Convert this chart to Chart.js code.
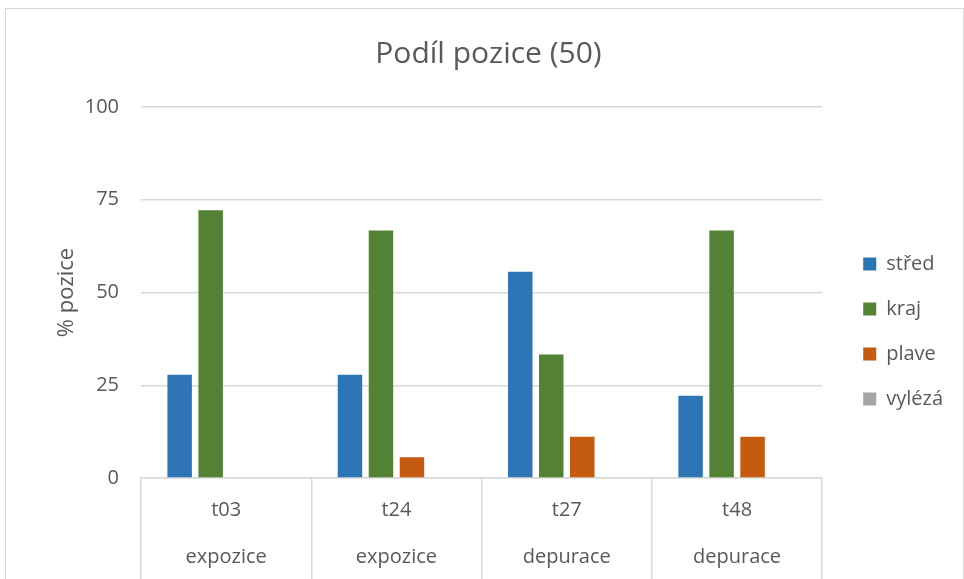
<!DOCTYPE html>
<html>
<head>
<meta charset="utf-8">
<script src="https://cdn.jsdelivr.net/npm/chart.js@4.4.1/dist/chart.umd.min.js"></script>
<style>
html, body { margin: 0; padding: 0; background: #fff; overflow: hidden; }
#wrap { position: relative; width: 964px; height: 579px; }
#frame { position: absolute; left: 5px; top: 8px; width: 957px; height: 620px; border: 1px solid #d9d9d9; pointer-events: none; }
</style>
</head>
<body>
<div id="wrap">
    <canvas id="myChart" width="964" height="579"></canvas>
    <div id="frame"></div>
</div>
<script>
var casy   = ['t03', 't24', 't27', 't48'];
var faze   = ['expozice', 'expozice', 'depurace', 'depurace'];
var stred  = [27.8, 27.8, 55.6, 22.2];
var kraj   = [72.2, 66.7, 33.3, 66.7];
var plave  = [0, 5.6, 11.1, 11.1];
var vyleza = [0, 0, 0, 0];
var yTicks = [0, 25, 50, 75, 100];

var font = 'Open Sans';
var textColor = '#595959';
var gridColor = '#d9d9d9';

var labels = casy.map(function(c, i) { return [c, faze[i]]; });

var ctx = document.getElementById('myChart').getContext('2d');

var myChart = new Chart(ctx, {
    type: 'bar',
    data: {
        labels: labels,
        datasets: [
            { label: 'střed',  data: stred,  backgroundColor: '#2e75b6' },
            { label: 'kraj',   data: kraj,   backgroundColor: '#548235' },
            { label: 'plave',  data: plave,  backgroundColor: '#c55a11' },
            { label: 'vylézá', data: vyleza, backgroundColor: '#a5a5a5' }
        ]
    },
    options: {
        responsive: false,
        animation: false,
        devicePixelRatio: 1,
        categoryPercentage: 0.728,
        barPercentage: 0.79,
        layout: {
            padding: { left: 24, right: 11, top: 0, bottom: 0 }
        },
        plugins: {
            title: {
                display: true,
                text: 'Podíl pozice (50)',
                color: textColor,
                font: { family: font, size: 30, weight: 'normal' },
                padding: { top: 36, bottom: 35 }
            },
            legend: {
                position: 'right',
                title: {
                    display: true,
                    text: ' ',
                    font: { family: font, size: 10 },
                    padding: { top: 72, bottom: 0 }
                },
                labels: {
                    color: textColor,
                    font: { family: font, size: 20 },
                    boxWidth: 13,
                    boxHeight: 13,
                    padding: 25
                }
            },
            tooltip: { enabled: false }
        },
        scales: {
            x: {
                grid: {
                    offset: true,
                    drawOnChartArea: false,
                    color: gridColor,
                    tickLength: 101,
                    lineWidth: 1.5
                },
                border: { display: true, color: gridColor, width: 1.5 },
                ticks: {
                    color: textColor,
                    font: { family: font, size: 20, lineHeight: 2.35 },
                    padding: -92,
                    maxRotation: 0
                },
                afterFit: function(scale) { scale.height = 101; }
            },
            y: {
                min: 0,
                max: 100,
                afterBuildTicks: function(scale) {
                    scale.ticks = yTicks.map(function(v) { return { value: v }; });
                },
                grid: { color: gridColor, drawTicks: false, lineWidth: 1.5 },
                border: { display: false },
                ticks: {
                    color: textColor,
                    font: { family: font, size: 20 },
                    padding: 22
                },
                title: {
                    display: true,
                    text: '% pozice',
                    color: textColor,
                    font: { family: font, size: 22 },
                    padding: { top: 30, bottom: 0 }
                },
                afterFit: function(scale) { scale.width = 117; }
            },
            pad: {
                type: 'linear',
                position: 'right',
                display: true,
                grid: { display: false },
                border: { display: false },
                ticks: { display: false },
                afterFit: function(scale) { scale.width = 16; }
            }
        }
    }
});
</script>
</body>
</html>
